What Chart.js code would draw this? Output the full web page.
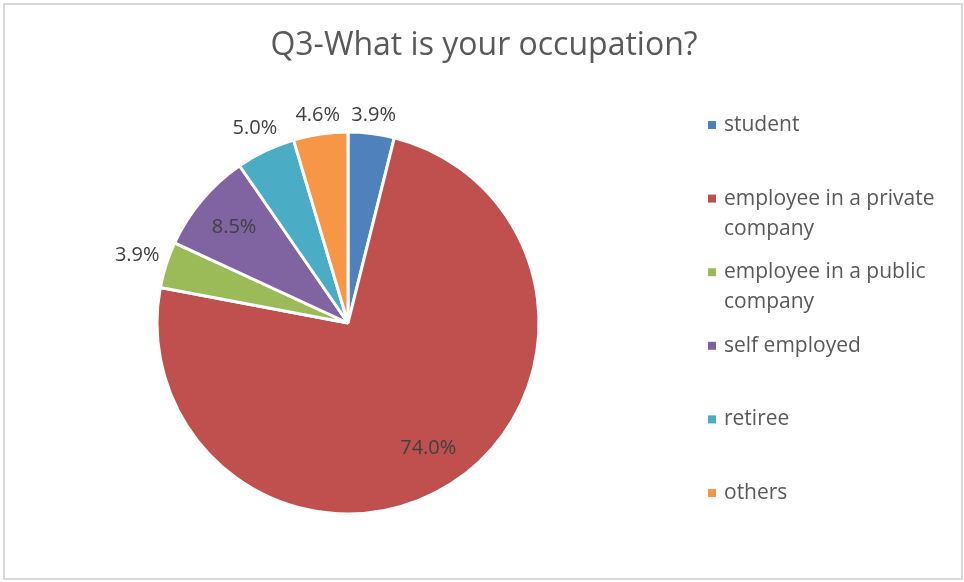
<!doctype html>
<html lang="en">
<head>
  <meta charset="utf-8">
  <title>Q3-What is your occupation?</title>
  <style>
    html, body {
      margin: 0;
      padding: 0;
      background: #ffffff;
    }
    .chartBox {
      position: relative;
      width: 964px;
      height: 582px;
    }
    .frame {
      position: absolute;
      left: 3px;
      top: 3px;
      width: 956px;
      height: 573px;
      border: 2px solid #d9d9d9;
      pointer-events: none;
    }
  </style>
</head>
<body>
  <div class="chartBox">
    <canvas id="occupation" width="964" height="582"></canvas>
    <div class="frame"></div>
  </div>
  <script src="https://cdn.jsdelivr.net/npm/chart.js@4.4.0/dist/chart.umd.min.js"></script>
  <script>
    const title = "Q3-What is your occupation?";
    const categories = [
      "student",
      "employee in a private company",
      "employee in a public company",
      "self employed",
      "retiree",
      "others"
    ];
    const shares = [3.9, 74.0, 3.9, 8.5, 5.0, 4.6];
    const colors = ["#4f81bd", "#c0504d", "#9bbb59", "#8064a2", "#4bacc6", "#f79646"];

    const FONT = "'Open Sans', Lato, sans-serif";

    // split a legend label into lines that fit maxWidth
    function wrapText(ctx, text, maxWidth) {
      const words = text.split(" ");
      const lines = [];
      let line = "";
      words.forEach(w => {
        const test = line ? line + " " + w : w;
        if (line && ctx.measureText(test).width > maxWidth) {
          lines.push(line);
          line = w;
        } else {
          line = test;
        }
      });
      if (line) lines.push(line);
      return lines;
    }

    // title, legend and percentage labels, drawn Excel style
    const decorations = {
      id: "decorations",
      afterDraw(chart) {
        const ctx = chart.ctx;
        ctx.save();

        // title
        ctx.fillStyle = "#595959";
        ctx.font = "32px " + FONT;
        ctx.textAlign = "center";
        ctx.textBaseline = "middle";
        ctx.fillText(title, 484, 46);

        // legend
        ctx.font = "21px " + FONT;
        ctx.textAlign = "left";
        const firstY = 125, lastY = 493;
        const step = (lastY - firstY) / (categories.length - 1);
        categories.forEach((name, i) => {
          const y = firstY + i * step;
          ctx.fillStyle = colors[i];
          ctx.fillRect(708, y - 4, 8, 8);
          ctx.fillStyle = "#595959";
          wrapText(ctx, name, 228).forEach((ln, j) => {
            ctx.fillText(ln, 724, y + j * 30);
          });
        });

        // data labels
        ctx.font = "20px " + FONT;
        const meta = chart.getDatasetMeta(0);
        ctx.fillStyle = "#404040";
        ctx.textAlign = "center";
        meta.data.forEach((arc, i) => {
          const p = arc.getProps(["x", "y", "startAngle", "endAngle", "outerRadius"], true);
          const mid = (p.startAngle + p.endAngle) / 2;
          const text = shares[i].toFixed(1) + "%";
          const w = ctx.measureText(text).width;
          let r;
          if (shares[i] > 8) {
            r = p.outerRadius * 0.78;
          } else {
            r = p.outerRadius + 6 + Math.abs(Math.cos(mid)) * w / 2 + Math.abs(Math.sin(mid)) * 10;
          }
          ctx.fillText(text, p.x + r * Math.cos(mid), p.y + r * Math.sin(mid));
        });

        ctx.restore();
      }
    };

    new Chart(document.getElementById("occupation"), {
      type: "pie",
      data: {
        labels: categories,
        datasets: [{
          data: shares,
          backgroundColor: colors,
          borderColor: "#ffffff",
          borderWidth: 3
        }]
      },
      options: {
        responsive: false,
        animation: false,
        radius: 191,
        layout: {
          padding: { left: 0, right: 268, top: 64, bottom: 0 }
        },
        plugins: {
          legend: { display: false },
          title: { display: false },
          tooltip: { enabled: false }
        }
      },
      plugins: [decorations]
    });
  </script>
</body>
</html>
